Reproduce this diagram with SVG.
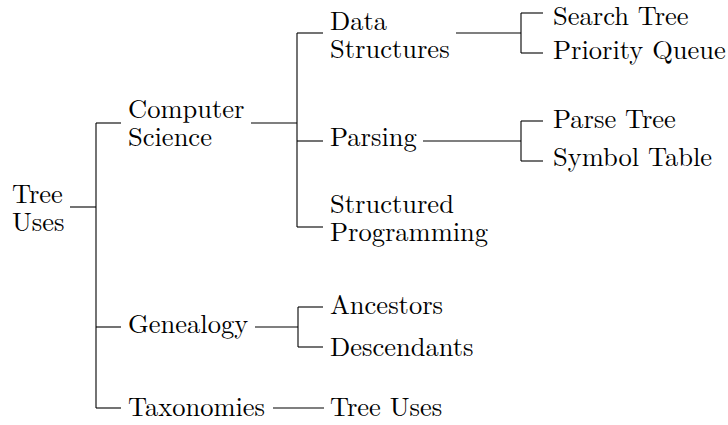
<svg xmlns="http://www.w3.org/2000/svg" width="728" height="425" viewBox="0 0 728 425">
<defs>
<style>
.t{font-family:"Latin Modern Roman","Liberation Serif",serif;font-size:26.5px;fill:#000}
</style>
</defs>
<rect width="728" height="425" fill="#fff"/>
<g id="connectors" stroke="#000" stroke-width="1.1" fill="none">
<line x1="70" y1="207" x2="96" y2="207"/>
<line x1="96" y1="123" x2="96" y2="408"/>
<line x1="96" y1="123" x2="121" y2="123"/>
<line x1="96" y1="327" x2="121" y2="327"/>
<line x1="96" y1="408" x2="121" y2="408"/>
<line x1="251" y1="123" x2="297" y2="123"/>
<line x1="297" y1="33" x2="297" y2="227"/>
<line x1="297" y1="33" x2="323" y2="33"/>
<line x1="297" y1="141" x2="323" y2="141"/>
<line x1="297" y1="227" x2="323" y2="227"/>
<line x1="456" y1="33" x2="521" y2="33"/>
<line x1="521" y1="13" x2="521" y2="53"/>
<line x1="521" y1="13" x2="543" y2="13"/>
<line x1="521" y1="53" x2="543" y2="53"/>
<line x1="423" y1="141" x2="521" y2="141"/>
<line x1="521" y1="121" x2="521" y2="161"/>
<line x1="521" y1="121" x2="543" y2="121"/>
<line x1="521" y1="161" x2="543" y2="161"/>
<line x1="255" y1="327" x2="298" y2="327"/>
<line x1="298" y1="307" x2="298" y2="347"/>
<line x1="298" y1="307" x2="323" y2="307"/>
<line x1="298" y1="347" x2="323" y2="347"/>
<line x1="273" y1="408" x2="324" y2="408"/>
</g>
<g class="t" font-family="Latin Modern Roman, Liberation Serif, serif" font-size="26.5">
<g id="root"><text x="12" y="203">Tree</text><text x="12" y="231">Uses</text></g>
<g id="cs"><text x="128" y="118">Computer</text><text x="128" y="146">Science</text></g>
<g id="ds"><text x="330" y="30">Data</text><text x="330" y="58">Structures</text></g>
<g id="st"><text x="553" y="25">Search Tree</text></g>
<g id="pq"><text x="553" y="59">Priority Queue</text></g>
<g id="parsing"><text x="330" y="146">Parsing</text></g>
<g id="pt"><text x="553" y="128">Parse Tree</text></g>
<g id="sym"><text x="553" y="166">Symbol Table</text></g>
<g id="sp"><text x="330" y="213">Structured</text><text x="330" y="241">Programming</text></g>
<g id="gen"><text x="128" y="333">Genealogy</text></g>
<g id="anc"><text x="330" y="314">Ancestors</text></g>
<g id="desc"><text x="330" y="356">Descendants</text></g>
<g id="tax"><text x="128" y="416">Taxonomies</text></g>
<g id="tu2"><text x="330" y="416">Tree Uses</text></g>
</g>
</svg>
